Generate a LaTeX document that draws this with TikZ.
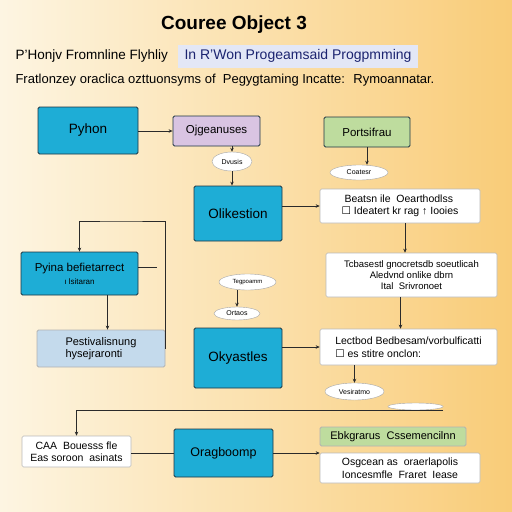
\documentclass[tikz,border=0pt]{standalone}
\usepackage{fontspec}
\setmainfont{Liberation Sans}
\newfontfamily\symfont{DejaVu Sans}
\usetikzlibrary{shapes.geometric,arrows.meta,positioning,calc}
\definecolor{bgl}{HTML}{FDF5E2}
\definecolor{bgr}{HTML}{F9CC78}
\definecolor{cyanbox}{HTML}{1EADD6}
\definecolor{boxline}{HTML}{1D3442}
\definecolor{lavbox}{HTML}{D9C4E2}
\definecolor{greenbox}{HTML}{BEDC9E}
\definecolor{paleblue}{HTML}{C4DAEC}
\definecolor{hlbox}{HTML}{E3E7F6}
\definecolor{navy}{HTML}{1C2470}
\definecolor{linec}{HTML}{2A2A2A}

\begin{document}
\begin{tikzpicture}[x=1pt, y=-1pt, box/.style={rectangle, draw=boxline, line width=0.8pt, rounded corners=1.5pt, align=center, inner sep=2pt}, cbox/.style={box, fill=cyanbox, font=\fontsize{13.5}{15}\selectfont}, wbox/.style={box, draw=gray!55, fill=white, line width=0.6pt, font=\fontsize{10.5}{12.5}\selectfont}, oval/.style={ellipse, draw=gray!70, fill=white, inner sep=0pt, font=\fontsize{7}{8}\selectfont}, arrow/.style={-{Stealth[length=4pt,width=3.5pt]}, line width=0.7pt, draw=linec}]
  \useasboundingbox (0,0) rectangle (512,512);
  \shade[left color=bgl, right color=bgr] (0,0) rectangle (512,512);

  \node[font=\bfseries\fontsize{19}{22}\selectfont] (title) at (234,25) {Couree Object 3};
  \node[anchor=west, font=\fontsize{13.5}{15}\selectfont] (sub) at (12,56) {P'Honjv Fromnline Flyhliy};
  \node[fill=hlbox, text=navy, minimum width=240pt, minimum height=23pt, font=\fontsize{14}{16}\selectfont] (hl) at (298,56) {In R'Won Progeamsaid Progpmming};
  \node[anchor=west, font=\fontsize{13}{15}\selectfont] (intro) at (12,80) {Fratlonzey oraclica ozttuonsyms of \ Pegygtaming Incatte: \ Rymoannatar.};

  \node[cbox, minimum width=100pt, minimum height=47pt] (py) at (88,130.5) {Pyhon};
  \node[box, fill=lavbox, minimum width=87pt, minimum height=30pt, font=\fontsize{11.5}{13}\selectfont] (ojg) at (216.5,131) {Ojgeanuses};
  \node[oval, minimum width=40pt, minimum height=19pt] (dvu) at (232,161.5) {Dvusis};
  \node[cbox, minimum width=88pt, minimum height=55pt] (obj) at (238,213.5) {Olikestion};

  \node[box, fill=greenbox, minimum width=86pt, minimum height=30pt, font=\fontsize{11.5}{13}\selectfont] (port) at (367,132) {Portsifrau};
  \node[oval, minimum width=58pt, minimum height=15pt] (coat) at (359,172.5) {Coatesr};
  \node[wbox, align=left, minimum width=160pt, minimum height=34pt] (meth) at (400,206) {\ Beatsn ile \ Oearthodlss\\{\symfont ☐} Ideatert kr rag ↑ Iooies};
  \node[wbox, minimum width=171pt, minimum height=44pt, font=\fontsize{9.5}{11}\selectfont] (cls) at (411.5,275) {Tcbasestl gnocretsdb soeutlicah\\Aledvnd onlike dbrn\\Ital \ Srivronoet};
  \node[wbox, align=left, minimum width=177pt, minimum height=36pt] (lect) at (408.5,347) {Lectbod Bedbesam/vorbulficatti\\{\symfont ☐} es stitre onclon:};
  \node[oval, minimum width=59pt, minimum height=17pt] (ves) at (354.5,391.5) {Vesiratmo};
  \node[oval, minimum width=55pt, minimum height=7pt] (thin) at (415.5,406.5) {};

  \node[cbox, minimum width=117pt, minimum height=43pt, font=\fontsize{11.5}{13}\selectfont] (pyi) at (79.5,273.5) {Pyina befietarrect\\{\fontsize{8}{9}\selectfont ı lsitaran}};
  \node[box, fill=paleblue, draw=gray!60, align=left, minimum width=128pt, minimum height=37pt, font=\fontsize{11}{12.5}\selectfont] (pest) at (101,348.5) {Pestivalisnung\\hysejraronti};
  \node[oval, minimum width=57pt, minimum height=16pt, font=\fontsize{6}{7}\selectfont] (teg) at (247.5,282) {Tegpoamm};
  \node[oval, minimum width=46pt, minimum height=13pt] (ort) at (237,313.5) {Ortaos};
  \node[cbox, minimum width=88pt, minimum height=60pt] (oky) at (238,358) {Okyastles};

  \node[wbox, minimum width=109pt, minimum height=31pt] (caa) at (76.5,451.5) {CAA \ Bouesss fle\\Eas soroon \ asinats};
  \node[cbox, minimum width=99pt, minimum height=48pt, font=\fontsize{12.5}{14}\selectfont] (orb) at (223.5,453) {Oragboomp};
  \node[box, fill=greenbox, draw=gray!60, minimum width=146pt, minimum height=19pt, font=\fontsize{11}{12}\selectfont] (ebk) at (393,436.5) {Ebkgrarus \ Cssemencilnn};
  \node[wbox, minimum width=160pt, minimum height=30pt] (osg) at (400,468) {Osgcean as \ oraerlapolis\\Ioncesmfle \ Fraret \ Iease};

  \coordinate (loop) at (120,221);
  \coordinate (stub) at (157,267);
  \coordinate (bend) at (443,410);

  \draw[arrow] (py.east |- ojg.west) -- (ojg.west);
  \draw[arrow] (dvu.north |- ojg.south) -- (dvu.north);
  \draw[arrow] (dvu.south) -- (dvu.south |- obj.north);
  \draw[arrow] (port.south) -- (port.south |- coat.north);
  \draw[arrow] (meth.west -| obj.east) -- (meth.west);
  \draw[arrow] ([xshift=5pt]meth.south) -- ([xshift=5pt]meth.south |- cls.north);
  \draw[arrow] ([xshift=-11pt]cls.south) -- ([xshift=-11pt]cls.south |- lect.north);
  \draw[arrow] (lect.west -| oky.east) -- (lect.west);
  \draw[arrow] (ves.north |- lect.south) -- (ves.north);
  \draw[arrow] (pest.east) |- (loop) -| (pyi.north);
  \draw[line width=0.7pt, linec] (pyi.east |- stub) -- (stub);
  \draw[arrow] ([xshift=28pt]pyi.south) -- ([xshift=28pt]pyi.south |- pest.north);
  \draw[arrow] (teg.south -| ort.north) -- (ort.north);
  \draw[arrow] (bend) -| (caa.north);
  \draw[line width=0.7pt, linec] (caa.east |- orb.west) -- (orb.west);
  \draw[arrow] (orb.east) -- (orb.east -| osg.west);
\end{tikzpicture}
\end{document}
